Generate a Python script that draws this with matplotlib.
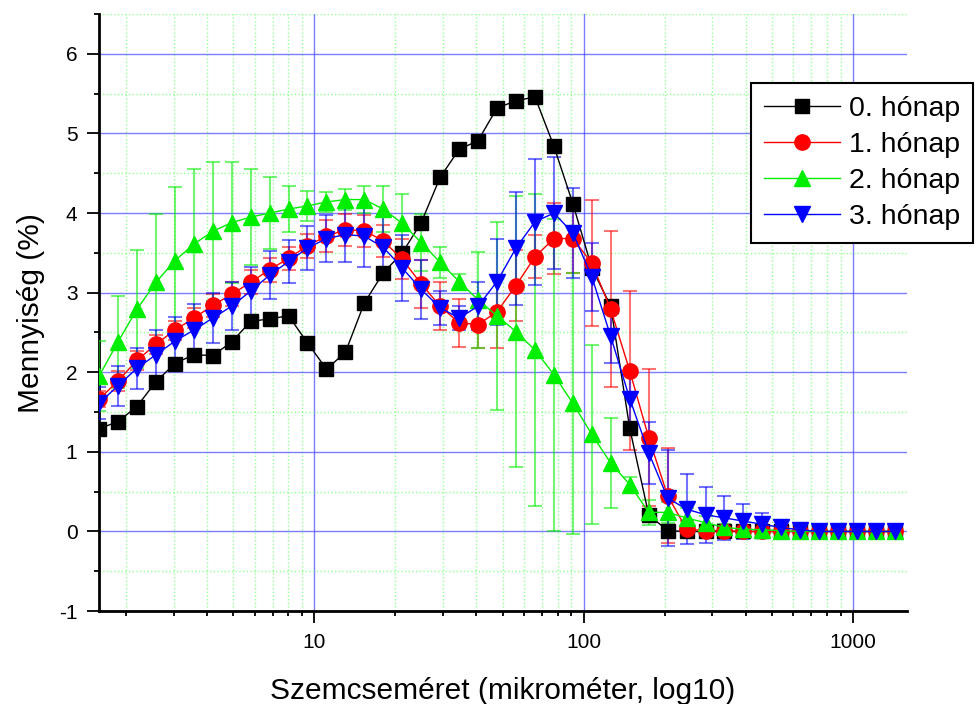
import numpy as np
import matplotlib
matplotlib.use('Agg')
import matplotlib.pyplot as plt
from matplotlib.ticker import LogLocator, MultipleLocator, NullFormatter, FixedLocator, FixedFormatter

plt.rcParams['font.family'] = ['Liberation Sans', 'DejaVu Sans']

# particle size bins (micrometer)
size = [1.585, 1.864, 2.192, 2.578, 3.031, 3.565, 4.193, 4.931, 5.799, 6.819,
        8.017, 9.428, 11.09, 13.04, 15.33, 18.03, 21.21, 24.94, 29.33, 34.49,
        40.55, 47.69, 56.09, 65.96, 77.57, 91.2, 107.3, 126.1, 148.3, 174.5,
        205.1, 241.2, 283.7, 333.6, 392.4, 461.3, 542.5, 638.0, 750.3, 882.3,
        1037.5, 1220.0, 1435.0]

m0 = [1.29, 1.38, 1.57, 1.88, 2.11, 2.22, 2.21, 2.38, 2.64, 2.67,
      2.71, 2.37, 2.04, 2.25, 2.87, 3.25, 3.50, 3.88, 4.45, 4.80,
      4.91, 5.32, 5.41, 5.46, 4.84, 4.12, 3.31, 2.83, 1.30, 0.21,
      0.01, 0.0, 0.0, 0.0, 0.0, 0.0, 0.0, 0.0, 0.0, 0.0,
      0.0, 0.0, 0.0]
m0_err = [0.05] * 30 + [0.02] * 13

m1 = [1.66, 1.89, 2.15, 2.35, 2.53, 2.68, 2.84, 2.98, 3.13, 3.29,
      3.43, 3.59, 3.71, 3.79, 3.78, 3.65, 3.42, 3.11, 2.83, 2.62,
      2.60, 2.76, 3.09, 3.45, 3.68, 3.68, 3.37, 2.79, 2.02, 1.18,
      0.45, 0.03, 0.01, 0.01, 0.0, 0.0, 0.0, 0.0, 0.0, 0.0,
      0.0, 0.0, 0.0]
m1_err = [0.10, 0.12, 0.12, 0.12, 0.12, 0.13, 0.14, 0.15, 0.15, 0.15,
          0.15, 0.15, 0.20, 0.20, 0.20, 0.20, 0.25, 0.30, 0.30, 0.30,
          0.30, 0.46, 0.45, 0.27, 0.45, 0.43, 0.79, 0.98, 1.00, 0.86,
          0.60, 0.10, 0.05, 0.02, 0.02, 0.02, 0.02, 0.02, 0.02, 0.02,
          0.02, 0.02, 0.02]

m2 = [1.95, 2.38, 2.79, 3.13, 3.40, 3.61, 3.77, 3.88, 3.95, 4.00,
      4.05, 4.09, 4.14, 4.17, 4.17, 4.05, 3.87, 3.63, 3.38, 3.14,
      2.91, 2.71, 2.51, 2.28, 1.97, 1.61, 1.22, 0.86, 0.59, 0.24,
      0.24, 0.17, 0.11, 0.05, 0.03, 0.02, 0.01, 0.0, 0.0, 0.0,
      0.0, 0.0, 0.0]
m2_err = [0.44, 0.58, 0.74, 0.86, 0.93, 0.94, 0.87, 0.76, 0.60, 0.45,
          0.29, 0.19, 0.13, 0.13, 0.17, 0.29, 0.37, 0.36, 0.20, 0.09,
          0.60, 1.18, 1.70, 1.96, 1.96, 1.64, 1.12, 0.56, 0.10, 0.16,
          0.13, 0.12, 0.08, 0.05, 0.03, 0.02, 0.02, 0.02, 0.02, 0.02,
          0.02, 0.02, 0.02]

m3 = [1.61, 1.83, 2.05, 2.22, 2.39, 2.53, 2.68, 2.83, 3.02, 3.22,
      3.39, 3.56, 3.68, 3.73, 3.71, 3.57, 3.31, 3.04, 2.81, 2.68,
      2.83, 3.14, 3.56, 3.89, 4.00, 3.75, 3.20, 2.45, 1.67, 0.99,
      0.42, 0.28, 0.21, 0.17, 0.13, 0.09, 0.05, 0.02, 0.0, 0.0,
      0.0, 0.0, 0.0]
m3_err = [0.20, 0.25, 0.26, 0.31, 0.30, 0.33, 0.31, 0.30, 0.30, 0.30,
          0.27, 0.28, 0.29, 0.34, 0.39, 0.41, 0.42, 0.37, 0.21, 0.15,
          0.30, 0.54, 0.71, 0.79, 0.70, 0.56, 0.43, 0.33, 0.35, 0.39,
          0.60, 0.44, 0.35, 0.28, 0.22, 0.14, 0.09, 0.03, 0.02, 0.02,
          0.02, 0.02, 0.02]

labels = ['0. hónap', '1. hónap', '2. hónap', '3. hónap']

fig = plt.figure(figsize=(9.76, 7.04), dpi=100)
ax = fig.add_axes([0.1014, 0.132, 0.8276, 0.848])

series = [
    (m0, m0_err, 'black', 's', 10),
    (m1, m1_err, 'red', 'o', 11),
    (m2, m2_err, '#00ee00', '^', 12),
    (m3, m3_err, 'blue', 'v', 12),
]

handles = []
for (vals, err, col, mk, ms), lab in zip(series, labels):
    ax.errorbar(size, vals, yerr=err, fmt='none', ecolor=col, elinewidth=1.5,
                capsize=5, capthick=1.5, alpha=0.55, zorder=3)
    ln, = ax.plot(size, vals, color=col, lw=1, marker=mk, ms=ms,
                  markeredgecolor=col, label=lab, zorder=4)
    handles.append(ln)

ax.set_xscale('log')
ax.set_xlim(1.585, 1585)
ax.set_ylim(-1, 6.5)

ax.xaxis.set_major_locator(FixedLocator([10, 100, 1000]))
ax.xaxis.set_major_formatter(FixedFormatter(['10', '100', '1000']))
ax.xaxis.set_minor_locator(LogLocator(base=10, subs=np.arange(2, 10), numticks=20))
ax.xaxis.set_minor_formatter(NullFormatter())
ax.yaxis.set_major_locator(MultipleLocator(1))
ax.yaxis.set_major_formatter(matplotlib.ticker.FuncFormatter(lambda v, p: '%d' % v))
ax.yaxis.set_minor_locator(MultipleLocator(0.5))

ax.grid(True, which='major', color='#4444ff', lw=1, alpha=0.7, zorder=0)
ax.grid(True, which='minor', color='#77ff77', lw=1, ls=':', alpha=0.8, zorder=0)
ax.set_axisbelow(True)

for s in ['top', 'right']:
    ax.spines[s].set_visible(False)
for s in ['left', 'bottom']:
    ax.spines[s].set_linewidth(2)

ax.tick_params(which='major', direction='out', length=8.5, width=1.3, labelsize=15, pad=7)
ax.tick_params(which='minor', direction='out', length=3.6, width=1.3)

ax.set_xlabel('Szemcseméret (mikrométer, log10)', fontsize=21.5, labelpad=18)
ax.set_ylabel('Mennyiség (%)', fontsize=21.5, labelpad=10)

leg = ax.legend(handles=handles, loc='upper left', bbox_to_anchor=(0.807, 0.884),
                fontsize=20.5, frameon=True, fancybox=False, framealpha=1,
                edgecolor='black', borderpad=0.45, handlelength=2.7,
                handletextpad=0.3, labelspacing=0.35, borderaxespad=0)
leg.get_frame().set_linewidth(1.5)
leg.set_zorder(10)

fig.savefig('out.png', dpi=100)
